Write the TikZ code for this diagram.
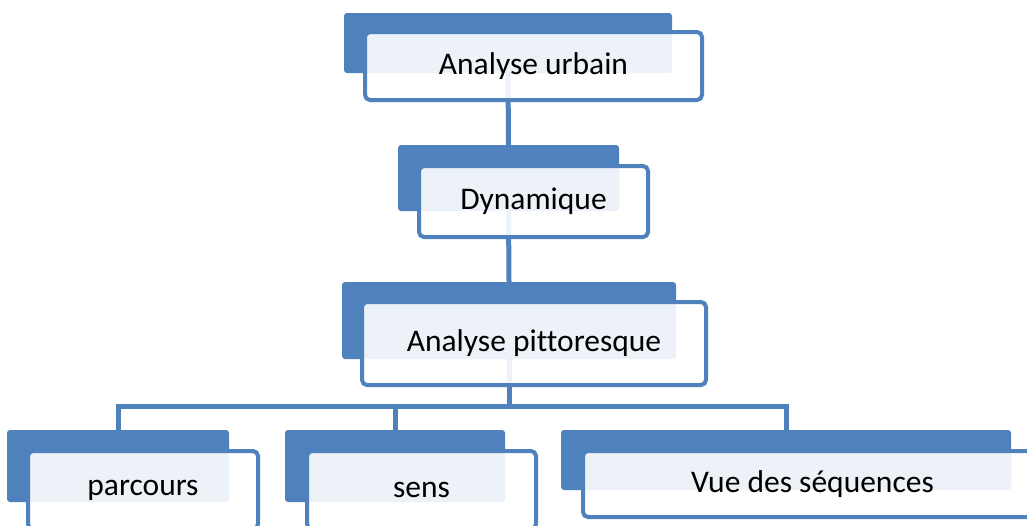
\documentclass[tikz,border=0pt]{standalone}
\usepackage{fontspec}
\setmainfont{Carlito}[Ligatures=NoCommon]
\definecolor{boxblue}{HTML}{4F81BD}
\tikzset{
  back/.style={fill=boxblue, rounded corners=3pt, inner sep=0pt},
  front/.style={draw=boxblue, line width=4pt, fill=white, fill opacity=0.9,
    text opacity=1, rounded corners=5pt, inner sep=0pt,
    font=\fontsize{31.5}{36}\selectfont},
  link/.style={draw=boxblue, line width=5pt}
}
\begin{document}
\begin{tikzpicture}[x=1pt,y=-1pt]
      \useasboundingbox (0,0) rectangle (1027,525);

      % back boxes
      \node[back, minimum width=328pt, minimum height=60pt] at (508,43) (urbainB) {};
      \node[back, minimum width=221pt, minimum height=66pt] at (508.5,178) (dynB) {};
      \node[back, minimum width=334pt, minimum height=77pt] at (509,320.5) (pittB) {};
      \node[back, minimum width=222pt, minimum height=72pt] at (118,466) (parcB) {};
      \node[back, minimum width=220pt, minimum height=72pt] at (395,466) (sensB) {};
      \node[back, minimum width=450pt, minimum height=60pt] at (786,460) (vueB) {};

      % links
      \draw[link] (urbainB.south) -- (dynB.north);
      \draw[link] (dynB.south) -- (pittB.north);
      \coordinate (bar) at (509,406);
      \draw[link] (pittB.south) -- (bar);
      \draw[link] (parcB.north) |- (bar) -| (vueB.north);
      \draw[link] (sensB.north) -- (sensB.north |- bar);

      % 'Analyse urbain'
      \node[front, minimum width=337pt, minimum height=68pt] at (533.5,66) (urbain) {\raisebox{-3pt}{Analyse urbain}};

      % 'Dynamique'
      \node[front, minimum width=229pt, minimum height=71pt] at (533.5,201.5) (dyn) {\raisebox{-2pt}{Dynamique}};

      % 'Analyse pittoresque'
      \node[front, minimum width=344pt, minimum height=83pt] at (534,343.5) (pitt) {\raisebox{-2pt}{Analyse pittoresque}};

      % 'parcours', 'sens', 'Vue des sequences'
      \node[front, minimum width=230pt, minimum height=78pt] at (143,490) (parc) {\raisebox{-2pt}{parcours}};
      \node[front, minimum width=229pt, minimum height=78pt] at (421.5,490) (sens) {\raisebox{-2pt}{sens}};
      \node[front, minimum width=459pt, minimum height=66pt] at (812.5,484) (vue) {Vue des séquences};
    \end{tikzpicture}
\end{document}
